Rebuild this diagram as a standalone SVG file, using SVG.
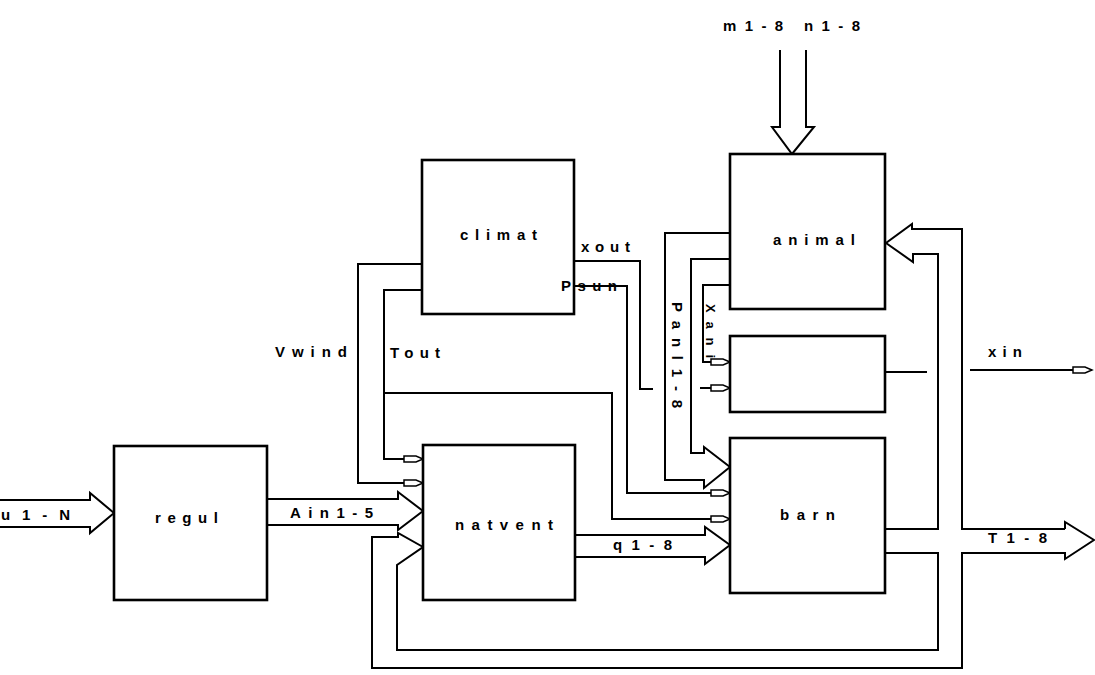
<svg xmlns="http://www.w3.org/2000/svg" width="1095" height="675" viewBox="0 0 1095 675">
<style>
.box{fill:#fff;stroke:#000;stroke-width:2.6}
.ln{fill:none;stroke:#000;stroke-width:2}
.t{font-family:"Liberation Sans",Arial,sans-serif;font-weight:bold;font-size:15px;fill:#000}
.s{font-size:13px}
</style>
<defs>
<marker id="ha" viewBox="-21 -5 23 10" refX="0" refY="0" markerWidth="23" markerHeight="10" orient="auto" markerUnits="userSpaceOnUse">
<path d="M-19,-3 L-7,-3 L0,0 L-7,3 L-19,3 Z" fill="#fff" stroke="#000" stroke-width="1.5"/>
</marker>
</defs>
<rect width="1095" height="675" fill="#fff"/>
<g id="connectors">
<path class="ln" d="M0,500 H90 V493 L114,513 L90,533 V527 H0"/>
<path class="ln" d="M267,499 H398 V492 L423,511 L398,530 V525 H267"/>
<path class="ln" d="M780,50 V127 H772 L792,154 L814,127 H806 V50"/>
<path class="ln" d="M575,535 H705 V527 L730,545 L705,564 V557 H575"/>
<path class="ln" d="M1065,529 H962 V229 H912 V224 L886,243 L913,262 V254 H938 V529 H885"/>
<path class="ln" d="M885,553 H938 V650 H397 V565 L423,547 L398,533 V537 H372 V668 H962 V553 H1065 V559 L1094,540 L1065,522 V529"/>
<path class="ln" d="M422,264 H358 V483 H423" marker-end="url(#ha)"/>
<path class="ln" d="M422,290 H384 V459 H423" marker-end="url(#ha)"/>
<path class="ln" d="M384,393 H612 V519 H730" marker-end="url(#ha)"/>
<path class="ln" d="M574,286 H627 V493 H730" marker-end="url(#ha)"/>
<path class="ln" d="M574,261 H640 V389 H653"/>
<path class="ln" d="M700,388 H730" marker-end="url(#ha)"/>
<path class="ln" d="M730,233 H665 V480 H704 V488 L730,467 L704,447 V453 H691 V259 H730"/>
<path class="ln" d="M730,285 H703 V362 H730" marker-end="url(#ha)"/>
<path class="ln" d="M885,372 H927"/>
<path class="ln" d="M970,370 H1092" marker-end="url(#ha)"/>
</g>
<g id="climat"><rect class="box" x="422" y="160" width="152" height="154"/><text class="t" x="460" y="240" textLength="77" lengthAdjust="spacing">climat</text></g>
<g id="animal"><rect class="box" x="730" y="154" width="155" height="155"/><text class="t" x="773" y="245" textLength="82" lengthAdjust="spacing">animal</text></g>
<g id="middle"><rect class="box" x="730" y="336" width="155" height="76"/></g>
<g id="regul"><rect class="box" x="114" y="446" width="153" height="154"/><text class="t" x="155" y="523" textLength="63" lengthAdjust="spacing">regul</text></g>
<g id="natvent"><rect class="box" x="423" y="445" width="152" height="155"/><text class="t" x="455" y="530" textLength="98" lengthAdjust="spacing">natvent</text></g>
<g id="barn"><rect class="box" x="730" y="438" width="155" height="155"/><text class="t" x="780" y="520" textLength="55" lengthAdjust="spacing">barn</text></g>
<g id="labels">
<text class="t" x="723" y="31" textLength="137" lengthAdjust="spacing">m1-8 n1-8</text>
<text class="t" x="581" y="252" textLength="49" lengthAdjust="spacing">xout</text>
<text class="t" x="561" y="291" textLength="56" lengthAdjust="spacing">Psun</text>
<text class="t" x="275" y="357" textLength="72" lengthAdjust="spacing">Vwind</text>
<text class="t" x="390" y="358" textLength="50" lengthAdjust="spacing">Tout</text>
<text class="t" x="988" y="357" textLength="34" lengthAdjust="spacing">xin</text>
<text class="t" transform="translate(672,302) rotate(90)" x="0" y="0" textLength="106" lengthAdjust="spacing">Panl1-8</text>
<text class="t s" transform="translate(706,304) rotate(90)" x="0" y="0" textLength="54" lengthAdjust="spacing">Xani</text>
<text class="t" x="1" y="520" textLength="69" lengthAdjust="spacing">u1-N</text>
<text class="t" x="290" y="518" textLength="83" lengthAdjust="spacing">Ain1-5</text>
<text class="t" x="613" y="550" textLength="59" lengthAdjust="spacing">q1-8</text>
<text class="t" x="988" y="543" textLength="59" lengthAdjust="spacing">T1-8</text>
</g>
</svg>
